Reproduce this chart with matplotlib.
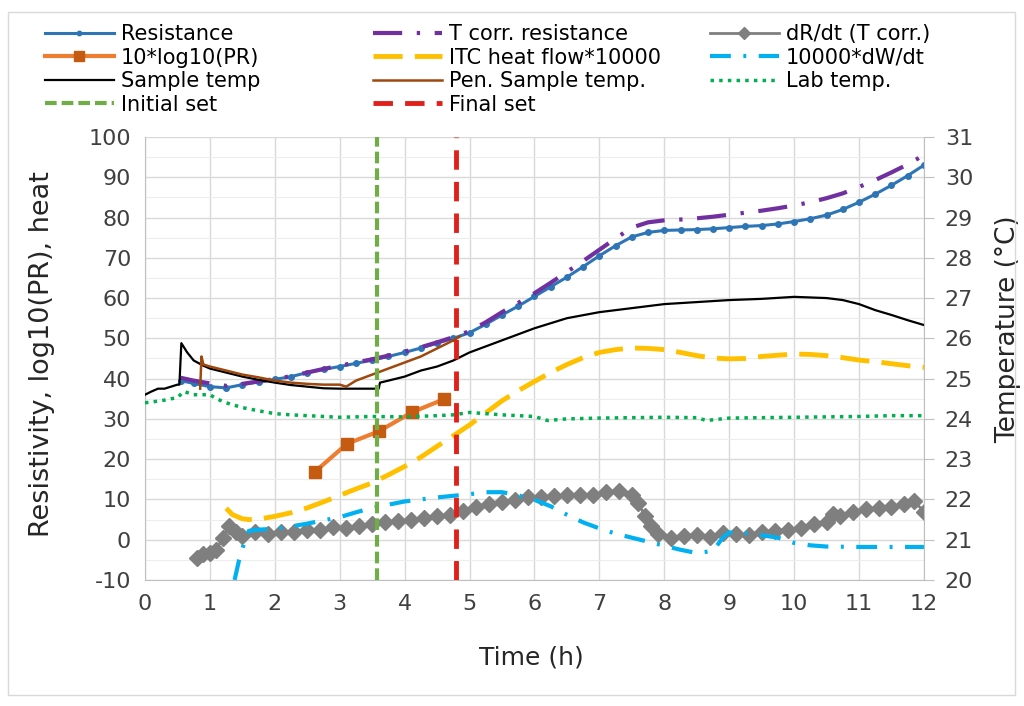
import matplotlib.pyplot as plt
import matplotlib.patches as patches

plt.rcParams['font.family'] = ['DejaVu Sans']
plt.rcParams['axes.unicode_minus'] = False

# ---- data (left axis units unless noted) ----
t_res = [0.55, 0.75, 1.0, 1.25, 1.5, 1.75, 2.0, 2.25, 2.5, 2.75, 3.0, 3.25, 3.5, 3.75,
         4.0, 4.25, 4.5, 4.75, 5.0, 5.25, 5.5, 5.75, 6.0, 6.25, 6.5, 6.75, 7.0, 7.25,
         7.5, 7.75, 8.0, 8.25, 8.5, 8.75, 9.0, 9.25, 9.5, 9.75, 10.0, 10.25, 10.5,
         10.75, 11.0, 11.25, 11.5, 11.75, 12.0]
resistance = [39.5, 38.8, 38, 37.7, 38.5, 39.2, 39.8, 40.5, 41.5, 42.3,
              43, 43.8, 44.6, 45.5, 46.5, 47.6, 48.8, 50, 51.4, 53.5,
              55.8, 58, 60.4, 62.8, 65.2, 67.8, 70.5, 73, 75.2, 76.3,
              76.8, 76.9, 77, 77.2, 77.5, 77.8, 78, 78.4, 79, 79.7,
              80.6, 82, 83.8, 85.8, 88, 90.4, 93]
t_corr_res = [40.2, 39.5, 38.8, 38.2, 38.7, 39.3, 39.9, 40.6, 41.5, 42.4,
              43.2, 44, 44.8, 45.7, 46.7, 47.8, 49, 50.3, 51.8, 54,
              56.5, 58.8, 61.2, 63.8, 66.5, 69.2, 72, 74.8, 77.5, 78.8,
              79.3, 79.5, 79.8, 80.2, 80.7, 81.2, 81.7, 82.3, 83, 83.8,
              84.8, 86, 87.6, 89.3, 91.2, 93.2, 95.5]

t_drdt = [0.8, 0.9, 1.0, 1.1, 1.2, 1.3, 1.4, 1.5, 1.7, 1.9,
          2.1, 2.3, 2.5, 2.7, 2.9, 3.1, 3.3, 3.5, 3.7, 3.9,
          4.1, 4.3, 4.5, 4.7, 4.9, 5.1, 5.3, 5.5, 5.7, 5.9,
          6.1, 6.3, 6.5, 6.7, 6.9, 7.1, 7.3, 7.5, 7.6, 7.7,
          7.8, 7.9, 8.1, 8.3, 8.5, 8.7, 8.9, 9.1, 9.3, 9.5,
          9.7, 9.9, 10.1, 10.3, 10.5, 10.6, 10.7, 10.9, 11.1, 11.3,
          11.5, 11.7, 11.85, 12.0]
drdt = [-4.5, -3.5, -3.2, -2.5, 0.5, 3.5, 1.8, 1.0, 1.8, 1.5,
        2.0, 1.8, 2.5, 2.3, 3.2, 2.8, 3.5, 3.8, 4.3, 4.6,
        5.0, 5.3, 5.8, 6.2, 7.2, 8.2, 8.8, 9.3, 9.8, 10.5,
        10.7, 10.8, 11.0, 11.2, 11.0, 11.8, 12.2, 11.0, 9.0, 6.0,
        3.5, 1.5, 0.4, 0.8, 1.2, 0.6, 1.6, 1.5, 1.2, 1.9,
        2.2, 2.5, 3.0, 3.8, 4.5, 6.5, 6.0, 7.0, 7.5, 7.8,
        8.0, 8.8, 9.5, 7.0]

t_pr = [2.62, 3.11, 3.6, 4.12, 4.61]
log_pr = [16.9, 23.8, 26.9, 31.7, 34.9]

t_itc = [1.25, 1.35, 1.5, 1.6, 1.75, 2.0, 2.25, 2.5, 2.75, 3.0, 3.25, 3.5, 3.75,
         4.0, 4.25, 4.5, 4.75, 5.0, 5.25, 5.5, 5.75, 6.0, 6.25, 6.5, 6.75, 7.0,
         7.25, 7.5, 7.75, 8.0, 8.25, 8.5, 8.75, 9.0, 9.25, 9.5, 9.75, 10.0, 10.25,
         10.5, 10.75, 11.0, 11.25, 11.5, 11.75, 12.0]
itc_heat = [7.8, 6.2, 5.2, 5, 5.1, 5.8, 6.7, 7.9, 9.4, 11, 12.6, 14.1, 16.1,
            18.2, 20.5, 23.2, 25.8, 28.5, 31.5, 34.5, 37, 39.3, 41.5, 43.5, 45.2, 46.5,
            47.2, 47.6, 47.5, 47.2, 46.5, 45.7, 45.1, 44.9, 45, 45.5, 45.8, 46.1, 46,
            45.7, 45.2, 44.6, 44.2, 43.7, 43.2, 42.8]

t_dwdt = [1.38, 1.45, 1.52, 1.6, 1.75, 2.0, 2.25, 2.5, 2.75, 3.0,
          3.25, 3.5, 3.75, 4.0, 4.25, 4.5, 4.75, 5.0, 5.25, 5.5,
          5.75, 6.0, 6.25, 6.5, 6.75, 7.0, 7.25, 7.5, 7.75, 8.0,
          8.25, 8.5, 8.75, 8.9, 9.0, 9.25, 9.5, 9.75, 10.0, 10.25,
          10.5, 11.0, 11.5, 12.0]
dwdt = [-10, -5, -1.2, 2.2, 2.5, 2.7, 3.3, 4, 4.8, 5.6,
        6.8, 7.9, 8.7, 9.5, 10, 10.5, 10.9, 11.3, 11.8, 11.8,
        11, 9.9, 8.3, 6.2, 4.3, 2.8, 1.5, 0.5, -0.5, -1.5,
        -2.5, -3.3, -2.8, 0.5, 1.8, 1.6, 1.1, 0.5, -0.8, -1.4,
        -1.7, -1.8, -1.8, -1.8]

# temperatures (right axis, deg C)
t_sample = [0, 0.1, 0.2, 0.3, 0.4, 0.5, 0.53, 0.56, 0.65, 0.75, 0.9, 1.0, 1.25, 1.5,
            1.75, 2.0, 2.25, 2.5, 2.75, 3.0, 3.25, 3.5, 3.6, 3.62, 3.75, 4.0, 4.25,
            4.5, 4.75, 5.0, 5.25, 5.5, 5.75, 6.0, 6.5, 7.0, 7.5, 8.0, 8.5, 9.0, 9.5,
            10.0, 10.5, 10.75, 11.0, 11.25, 11.5, 11.75, 12.0]
sample_temp = [24.60, 24.68, 24.75, 24.75, 24.80, 24.85, 24.85, 25.88, 25.65, 25.45,
               25.32, 25.25, 25.15, 25.05, 24.97, 24.90, 24.84, 24.80, 24.76, 24.75,
               24.75, 24.75, 24.75, 24.90, 24.95, 25.05, 25.20, 25.30, 25.45, 25.65,
               25.80, 25.95, 26.10, 26.25, 26.50, 26.65, 26.75, 26.85, 26.90, 26.95,
               26.98, 27.03, 27.00, 26.95, 26.85, 26.70, 26.58, 26.45, 26.33]

t_pen = [0.85, 0.87, 0.9, 1.0, 1.25, 1.5, 1.75, 2.0, 2.25, 2.5, 2.75, 3.0, 3.1,
         3.25, 3.5, 3.75, 4.0, 4.25, 4.5, 4.75, 4.85]
pen_temp = [24.75, 25.55, 25.35, 25.30, 25.20, 25.10, 25.03, 24.95, 24.90, 24.87,
            24.85, 24.85, 24.80, 24.95, 25.10, 25.25, 25.40, 25.55, 25.75, 25.95, 26.05]

t_lab = [0, 0.25, 0.5, 0.6, 0.75, 1.0, 1.1, 1.25, 1.5, 1.75, 2.0, 2.25, 2.5, 2.75,
         3.0, 3.5, 4.0, 4.5, 4.75, 5.0, 5.25, 5.5, 5.75, 6.0, 6.2, 6.5, 7.0, 7.5,
         8.0, 8.5, 8.65, 9.0, 9.5, 10.0, 10.5, 11.0, 11.5, 12.0]
lab_temp = [24.40, 24.45, 24.53, 24.68, 24.60, 24.60, 24.50, 24.40, 24.28, 24.20,
            24.13, 24.10, 24.08, 24.06, 24.04, 24.06, 24.05, 24.08, 24.10, 24.16,
            24.13, 24.10, 24.08, 24.06, 23.96, 24.00, 24.02, 24.03, 24.04, 24.03,
            23.96, 24.02, 24.03, 24.04, 24.05, 24.06, 24.08, 24.08]

initial_set = 3.58
final_set = 4.79

# ---- figure ----
fig = plt.figure(figsize=(10.24, 7.06), dpi=100)
ax = fig.add_axes([0.1416, 0.1785, 0.7607, 0.6275])
ax2 = ax.twinx()

h_res, = ax.plot(t_res, resistance, color='#2E75B6', lw=2.2, marker='o', ms=4,
                 label='Resistance')
h_corr, = ax.plot(t_res, t_corr_res, color='#7030A0', lw=3,
                  ls=(0, (7, 3.5, 0.8, 3.5)), label='T corr. resistance')
h_drdt, = ax.plot(t_drdt, drdt, color='#7F7F7F', lw=2, marker='D', ms=8,
                  label='dR/dt (T corr.)')
h_pr, = ax.plot(t_pr, log_pr, color='#ED7D31', lw=3, marker='s', ms=9,
                mfc='#C55A11', mec='#C55A11', label='10*log10(PR)')
h_itc, = ax.plot(t_itc, itc_heat, color='#FFC000', lw=3.5, ls=(0, (6, 2.5)),
                 label='ITC heat flow*10000')
h_dw, = ax.plot(t_dwdt, dwdt, color='#00B0F0', lw=3, ls=(0, (5, 3, 0.7, 3)),
                label='10000*dW/dt')

h_st, = ax2.plot(t_sample, sample_temp, color='black', lw=1.6, label='Sample temp')
h_pen, = ax2.plot(t_pen, pen_temp, color='#9E480E', lw=1.8, label='Pen. Sample temp.')
h_lab, = ax2.plot(t_lab, lab_temp, color='#00B050', lw=2.5, ls=(0, (1, 1.5)),
                  label='Lab temp.')
h_ini = ax2.axvline(initial_set, color='#70AD47', lw=3, ls=(0, (2.8, 1.2)),
                    label='Initial set')
h_fin = ax2.axvline(final_set, color='#E0201B', lw=3.5, ls=(0, (4, 2.5)),
                    label='Final set')

ax.set_xlim(0, 12)
ax.set_ylim(-10, 100)
ax2.set_ylim(20, 31)
ax.set_xticks(range(0, 13))
ax.set_yticks(range(-10, 101, 10))
ax.set_yticks(range(-10, 101, 5), minor=True)
ax2.set_yticks(range(20, 32))

ax.set_axisbelow(True)
ax.grid(which='major', color='#d9d9d9', lw=1)
ax.yaxis.grid(which='minor', color='#ededed', lw=0.8)

for s in ['top', 'right']:
    ax.spines[s].set_visible(False)
for s in ['top', 'left', 'bottom']:
    ax2.spines[s].set_visible(False)
ax.spines['left'].set_color('#bfbfbf')
ax.spines['bottom'].set_color('#bfbfbf')
ax2.spines['right'].set_color('#bfbfbf')

ax.tick_params(axis='both', which='both', length=0, labelsize=16,
               labelcolor='#404040', pad=10)
ax2.tick_params(axis='y', length=7, color='#bfbfbf', labelsize=16,
                labelcolor='#404040', pad=8)

ax.set_xlabel('Time (h)', fontsize=18, color='#262626')
ax.set_ylabel('Resistivity, log10(PR), heat', fontsize=19.5, color='#262626')
ax2.set_ylabel('Temperature (°C)', fontsize=19, color='#262626')
ax.xaxis.set_label_coords(0.4955, -0.176)
ax.yaxis.set_label_coords(-0.132, 0.51)
ax2.yaxis.set_label_coords(1.108, 0.565)
for lab in [ax.xaxis.label, ax.yaxis.label, ax2.yaxis.label]:
    lab.set_verticalalignment('center')
    lab.set_horizontalalignment('center')

# legend, three columns placed like the original
cols = [([h_res, h_pr, h_st, h_ini], 0.0439),
        ([h_corr, h_itc, h_pen, h_fin], 0.3643),
        ([h_drdt, h_dw, h_lab], 0.6934)]
for hs, x0 in cols:
    fig.legend(handles=hs, loc='upper left', bbox_to_anchor=(x0, 0.966),
               bbox_transform=fig.transFigure, frameon=False, fontsize=15,
               handlelength=3.3, handletextpad=0.35, labelspacing=0.17,
               borderpad=0, borderaxespad=0, numpoints=1, markerscale=0.8)

fig.patches.append(patches.Rectangle((0.0078, 0.0156), 0.983, 0.967,
                                     transform=fig.transFigure, fill=False,
                                     edgecolor='#d9d9d9', lw=1))

fig.savefig('out.png', dpi=100)
